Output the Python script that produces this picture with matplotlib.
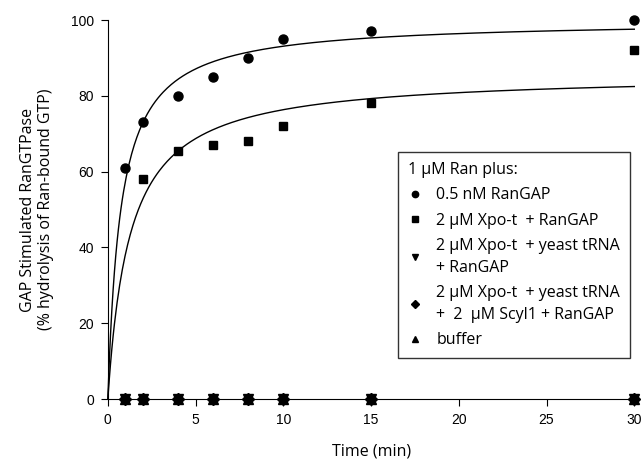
import numpy as np
import matplotlib.pyplot as plt

plt.rcParams['font.family'] = ['Liberation Sans', 'DejaVu Sans']

# time points (min)
time = [1, 2, 4, 6, 8, 10, 15, 30]
time_sq = [2, 4, 6, 8, 10, 15, 30]

# % hydrolysis of Ran-bound GTP
rangap = [61, 73, 80, 85, 90, 95, 97, 100]
xpo_rangap = [58, 65.5, 67, 68, 72, 78, 92]
xpo_trna = [0, 0, 0, 0, 0, 0, 0, 0]
xpo_trna_scyl = [0, 0, 0, 0, 0, 0, 0, 0]
buffer = [0, 0, 0, 0, 0, 0, 0, 0]

# hyperbolic fits (Vmax, K)
fit_rangap = (100.0, 0.74)
fit_xpo = (85.9, 1.25)

labels = [
    "0.5 nM RanGAP",
    "2 \u00b5M Xpo-t  + RanGAP",
    "2 \u00b5M Xpo-t  + yeast tRNA\n+ RanGAP",
    "2 \u00b5M Xpo-t  + yeast tRNA\n+  2  \u00b5M Scyl1 + RanGAP",
    "buffer",
]

text_font = ['Open Sans', 'DejaVu Sans']

fig = plt.figure(figsize=(6.42, 4.67), dpi=100)
ax = fig.add_axes([0.168, 0.1456, 0.820, 0.8114])

t = np.linspace(0, 30, 400)
for vmax, k in (fit_rangap, fit_xpo):
    ax.plot(t, vmax * t / (k + t), color='black', lw=1.0, clip_on=False)

kw = dict(color='black', ls='none', clip_on=False, zorder=3)
ax.plot(time, rangap, marker='o', ms=6.5, label=labels[0], **kw)
ax.plot(time_sq, xpo_rangap, marker='s', ms=6, label=labels[1], **kw)
ax.plot(time, xpo_trna, marker='v', ms=7, label=labels[2], **kw)
ax.plot(time, xpo_trna_scyl, marker='D', ms=6, label=labels[3], **kw)
ax.plot(time, buffer, marker='^', ms=7, label=labels[4], **kw)

ax.set_xlim(0, 30)
ax.set_ylim(0, 100)
ax.set_xticks([0, 5, 10, 15, 20, 25, 30])
ax.set_yticks([0, 20, 40, 60, 80, 100])
ax.spines['top'].set_visible(False)
ax.spines['right'].set_visible(False)
ax.tick_params(direction='out', length=5, width=0.8, labelsize=10, pad=5)

ax.set_xlabel("Time (min)", family=text_font, fontsize=11.5, labelpad=12)
ax.set_ylabel("GAP Stimulated RanGTPase\n(% hydrolysis of Ran-bound GTP)",
              family=text_font, fontsize=11.5, labelpad=12)

leg = ax.legend(loc='upper left', bbox_to_anchor=(0.551, 0.652), title="1 \u00b5M Ran plus:",
                prop={'family': text_font, 'size': 11.5},
                title_fontproperties={'family': text_font, 'size': 11.5},
                frameon=True, fancybox=False, edgecolor='black', markerscale=0.7,
                handlelength=1.0, handletextpad=0.8, labelspacing=0.6, borderpad=0.6,
                borderaxespad=0)
leg._legend_box.align = 'left'
for txt in leg.get_texts():
    txt.set_linespacing(1.45)
leg.get_frame().set_linewidth(1.0)

fig.savefig('out.png', dpi=100)
